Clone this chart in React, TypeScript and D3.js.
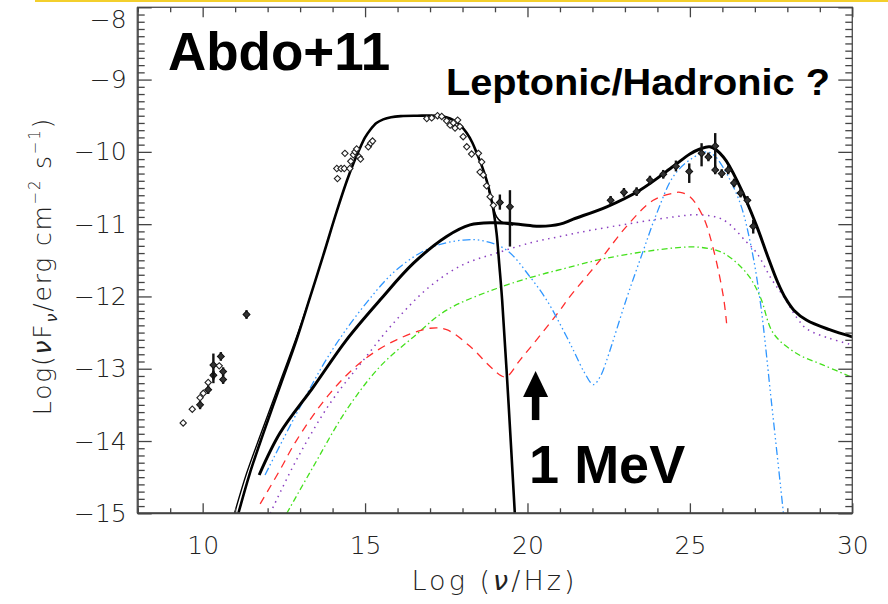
import React, { useEffect, useRef } from 'react'
import * as d3 from 'd3'

// plot box, in page pixels
const W = 888
const H = 604
const box = { left: 137.7, right: 852.3, top: 7.3, bottom: 513.3 }

const xDomain: [number, number] = [8, 30]
const yDomain: [number, number] = [-15, -8]
const xMajor = [10, 15, 20, 25, 30]
const yMajor = [-15, -14, -13, -12, -11, -10, -9, -8]

// model curves [log nu, log nuFnu]
const synchrotron = [
    [11.1, -15], [11.45, -14.45], [11.87, -13.89], [12.4, -13.22], [12.89, -12.6], [13.3, -12.02],
    [13.7, -11.45], [14.13, -10.82], [14.44, -10.4], [14.64, -10.16], [14.84, -9.95],
    [15.0, -9.8], [15.15, -9.7], [15.35, -9.6], [15.56, -9.55], [15.8, -9.52], [16.1, -9.505],
    [16.6, -9.5], [17.2, -9.5], [17.5, -9.52], [17.72, -9.56], [17.95, -9.64], [18.13, -9.74],
    [18.3, -9.87], [18.44, -10.02], [18.6, -10.2], [18.74, -10.39], [18.85, -10.58], [18.95, -10.8],
    [19.05, -11.13], [19.13, -11.55], [19.22, -12.05], [19.42, -13.5], [19.61, -15],
]
const synchrotronAlt = [
    [10.98, -15], [11.35, -14.45], [11.8, -13.89], [12.35, -13.22], [12.86, -12.6], [13.3, -12.02],
]
const totalHigh = [
    [11.74, -14.47], [12.38, -13.89], [13.41, -13.25], [14.43, -12.6], [15.46, -12.05], [16.49, -11.54],
    [17.51, -11.17], [18.23, -11.01], [18.95, -10.98], [19.5, -10.99], [20.08, -11.02], [20.39, -11.03],
    [21.0, -11.0], [21.41, -10.93], [22.44, -10.76], [23.46, -10.53], [24.49, -10.2], [25.0, -10.03],
    [25.31, -9.96], [25.62, -9.93], [26.03, -10.07], [26.54, -10.48], [27.06, -11.03], [27.4, -11.45],
    [27.7, -11.8], [27.95, -12.03], [28.2, -12.19], [28.6, -12.33], [29.3, -12.46], [30, -12.56],
]
const totalTail = [
    [18.74, -10.39], [18.85, -10.6], [18.95, -10.77], [19.05, -10.9], [19.2, -10.97], [19.4, -11.0], [19.56, -11.01],
]
const blueComp = [
    [11.92, -14.47], [12.89, -13.62], [13.92, -12.79], [14.95, -12.14], [15.97, -11.63], [17.0, -11.33],
    [18.02, -11.22], [18.64, -11.23], [19.36, -11.36], [20.08, -11.73], [20.59, -12.05], [21.0, -12.38],
    [21.41, -12.74], [21.75, -13.05], [22.03, -13.22], [22.25, -13.1], [22.44, -12.88], [23.05, -12.03],
    [23.57, -11.36], [23.98, -10.85], [24.49, -10.34], [25.0, -10.11], [25.52, -10.0], [25.75, -10.05],
    [26.03, -10.22], [26.54, -10.7], [26.88, -11.3], [27.16, -12.05], [27.52, -13.5], [27.88, -15],
]
const redComp = [
    [11.77, -14.87], [12.38, -14.4], [12.89, -13.99], [13.92, -13.34], [14.95, -12.88], [15.97, -12.6],
    [17.0, -12.44], [17.51, -12.46], [18.23, -12.69], [18.85, -12.97], [19.2, -13.1], [19.36, -13.11],
    [19.77, -12.88], [20.28, -12.6], [21.0, -12.19], [21.31, -12.0], [22.23, -11.5], [23.05, -11.03],
    [23.87, -10.67], [24.49, -10.57], [24.7, -10.56], [25.0, -10.62], [25.41, -10.9], [25.72, -11.34],
    [26.03, -12.0], [26.13, -12.37],
]
const purpleComp = [
    [12.08, -15], [12.89, -14.26], [13.92, -13.48], [14.95, -12.88], [15.97, -12.32], [17.0, -11.86],
    [18.02, -11.56], [19.05, -11.4], [20.08, -11.26], [21.0, -11.17], [22.0, -11.08], [23.46, -10.97],
    [24.5, -10.9], [25.31, -10.87], [26.03, -10.94], [26.75, -11.25], [27.06, -11.4], [27.5, -11.75],
    [27.88, -12.0], [28.3, -12.3], [28.6, -12.45], [29.3, -12.58], [30, -12.67],
]
const greenComp = [
    [12.59, -15], [13.41, -14.35], [14.43, -13.57], [15.46, -12.97], [16.49, -12.56], [17.51, -12.19],
    [19.05, -11.89], [20.39, -11.7], [21.0, -11.63], [22.44, -11.47], [24.49, -11.33], [25.31, -11.32],
    [26.03, -11.4], [26.75, -11.68], [27.16, -12.0], [27.57, -12.51], [28.29, -12.79], [29.11, -12.95],
    [30, -13.12],
]

// data points
const openPoints = [
    [9.4, -13.75], [9.68, -13.56], [9.92, -13.4], [10.02, -13.34], [10.17, -13.19], [10.51, -12.96],
    [14.15, -10.37], [14.13, -10.23], [14.26, -10.23], [14.36, -10.23], [14.53, -10.23], [14.38, -10.02],
    [14.56, -10.13], [14.64, -10.04], [14.69, -10.0], [14.74, -9.96], [14.82, -10.07], [14.86, -10.1],
    [15.1, -9.93], [15.17, -9.88], [15.23, -9.85],
    [16.9, -9.54], [17.05, -9.53], [17.23, -9.5], [17.36, -9.51], [17.51, -9.57], [17.62, -9.63],
    [17.72, -9.6], [17.77, -9.67], [17.85, -9.56], [17.92, -9.65], [18.02, -9.79], [18.13, -9.93],
    [18.28, -10.03], [18.49, -10.02], [18.59, -10.14], [18.54, -10.28], [18.64, -10.32], [18.74, -10.47],
    [18.85, -10.62], [18.95, -10.74],
]
// [x, y, lower, upper]
const filledPoints = [
    [9.92, -13.5, -13.56, -13.44], [10.17, -13.29, -13.35, -13.23], [10.33, -13.09, -13.15, -13.03],
    [10.33, -12.95, -13.2, -12.79], [10.56, -12.83, -12.89, -12.77], [10.63, -13.04, -13.1, -12.98],
    [10.63, -13.15, -13.21, -13.09], [11.35, -12.25, -12.31, -12.19],
    [19.15, -10.7, -10.8, -10.59], [19.46, -10.76, -11.31, -10.53],
    [22.56, -10.67, -10.73, -10.61], [22.97, -10.56, -10.62, -10.5], [23.36, -10.55, -10.61, -10.49],
    [23.77, -10.39, -10.45, -10.33], [24.18, -10.31, -10.37, -10.25], [24.57, -10.2, -10.27, -10.12],
    [24.98, -10.27, -10.43, -10.16], [25.36, -10.02, -10.2, -9.88], [25.57, -10.07, -10.13, -10.01],
    [25.78, -9.92, -10.25, -9.74], [25.78, -10.25, -10.31, -10.19], [25.98, -10.3, -10.36, -10.24],
    [26.18, -10.25, -10.31, -10.19], [26.36, -10.43, -10.49, -10.37], [26.56, -10.57, -10.63, -10.51],
    [26.77, -10.67, -10.73, -10.61], [26.95, -11.03, -11.13, -10.94],
]

// annotations, in data units
const arrowX = 20.25
const arrowTip = -13.03
const arrowEnd = -13.71

const tickFont = '"DejaVu Sans", "Liberation Sans", sans-serif'
const boldFont = '"Liberation Sans", Arial, sans-serif'

const App = () => {
    const axRef = useRef<SVGGElement>(null)

    const x = d3.scaleLinear().domain(xDomain).range([box.left, box.right])
    const y = d3.scaleLinear().domain(yDomain).range([box.bottom, box.top])

    const line = d3.line<number[]>()
        .x(d => x(d[0]))
        .y(d => y(d[1]))
        .curve(d3.curveCatmullRom.alpha(0.5))

    useEffect(() => {
        const g = d3.select(axRef.current)
        g.selectAll('*').remove()

        const xMinor = d3.range(8, 31, 1).filter(v => !xMajor.includes(v))
        const yMinor = d3.range(-150, -80, 1).filter(v => v % 10 !== 0).map(v => v / 10)

        const style = (sel: any) => {
            sel.attr('font-family', tickFont).attr('font-size', 25).attr('font-weight', 200)
            sel.selectAll('.domain').remove()
            sel.selectAll('line').attr('stroke', '#444').attr('stroke-width', 1.3)
            sel.selectAll('text').attr('fill', '#222')
        }

        g.append('g').attr('transform', `translate(0,${box.bottom})`)
            .call(d3.axisBottom(x).tickValues(xMajor).tickSize(-10).tickSizeOuter(0).tickPadding(23).tickFormat(d3.format('d')))
            .call(style)
        g.append('g').attr('transform', `translate(0,${box.bottom})`)
            .call(d3.axisBottom(x).tickValues(xMinor).tickSize(-5).tickFormat(() => ''))
            .call(style)
        g.append('g').attr('transform', `translate(0,${box.top})`)
            .call(d3.axisTop(x).tickValues(xMajor).tickSize(-10).tickFormat(() => ''))
            .call(style)
        g.append('g').attr('transform', `translate(0,${box.top})`)
            .call(d3.axisTop(x).tickValues(xMinor).tickSize(-5).tickFormat(() => ''))
            .call(style)

        const left = g.append('g').attr('transform', `translate(${box.left},0)`)
            .call(d3.axisLeft(y).tickValues(yMajor).tickSize(-14).tickPadding(11).tickFormat(d3.format('d')))
            .call(style)
        // top label sits lower so it stays inside the page
        left.selectAll('.tick text').filter((d: any) => d === -8).attr('transform', 'translate(0,12)')
        g.append('g').attr('transform', `translate(${box.left},0)`)
            .call(d3.axisLeft(y).tickValues(yMinor).tickSize(-7).tickFormat(() => ''))
            .call(style)
        g.append('g').attr('transform', `translate(${box.right},0)`)
            .call(d3.axisRight(y).tickValues(yMajor).tickSize(-14).tickFormat(() => ''))
            .call(style)
        g.append('g').attr('transform', `translate(${box.right},0)`)
            .call(d3.axisRight(y).tickValues(yMinor).tickSize(-7).tickFormat(() => ''))
            .call(style)
    }, [])

    const diamond = (s: number) => d3.symbol(d3.symbolSquare, s)() as string

    const ax = x(arrowX)
    const at = y(arrowTip)
    const ab = y(arrowEnd)

    return (
        <svg width={W} height={H} style={{ position: 'absolute', left: 0, top: 0, background: '#fff' }}>
            <defs>
                <clipPath id="plot">
                    <rect x={box.left} y={box.top} width={box.right - box.left} height={box.bottom - box.top} />
                </clipPath>
            </defs>
            <rect x={35} y={0} width={W - 35} height={2} fill="#f3cf2c" />

            <g clipPath="url(#plot)" fill="none">
                <path d={line(greenComp)!} stroke="#44e01c" strokeWidth={1.3} strokeDasharray="6 3 1.5 3" />
                <path d={line(purpleComp)!} stroke="#8a3fc0" strokeWidth={1.5} strokeDasharray="1.5 4.5" />
                <path d={line(redComp)!} stroke="#ff2d2d" strokeWidth={1.3} strokeDasharray="8 6" />
                <path d={line(blueComp)!} stroke="#2f96ff" strokeWidth={1.3} strokeDasharray="8 3 1.5 3 1.5 3 1.5 3" />
                <path d={line(totalHigh)!} stroke="#000" strokeWidth={3} />
                <path d={line(totalTail)!} stroke="#000" strokeWidth={1.6} />
                <path d={line(synchrotronAlt)!} stroke="#000" strokeWidth={1.4} />
                <path d={line(synchrotron)!} stroke="#000" strokeWidth={2.6} />
            </g>

            <g>
                {filledPoints.map((d, i) => (
                    <g key={'f' + i}>
                        <line x1={x(d[0])} x2={x(d[0])} y1={y(d[2])} y2={y(d[3])} stroke="#111" strokeWidth={2.4} />
                        <path d={diamond(24)} transform={`translate(${x(d[0])},${y(d[1])}) rotate(45)`} fill="#333" stroke="#111" strokeWidth={1} />
                    </g>
                ))}
                {openPoints.map((d, i) => (
                    <path key={'o' + i} d={diamond(20)} transform={`translate(${x(d[0])},${y(d[1])}) rotate(45)`}
                        fill="#fff" stroke="#222" strokeWidth={1.1} />
                ))}
            </g>

            <rect x={box.left} y={box.top} width={box.right - box.left} height={box.bottom - box.top}
                fill="none" stroke="#555" strokeWidth={1.4} />
            <line x1={box.left} x2={box.left} y1={box.top} y2={box.bottom} stroke="#555" strokeWidth={2.2} />
            <line x1={box.left} x2={box.right} y1={box.bottom} y2={box.bottom} stroke="#444" strokeWidth={2} />
            <g ref={axRef} />

            <text x={x(8.93)} y={y(-8.87)} fontFamily={boldFont} fontWeight="bold" fontSize={53}>Abdo+11</text>
            <text x={x(17.49)} y={y(-9.22)} fontFamily={boldFont} fontWeight="bold" fontSize={37}
                textLength={384} lengthAdjust="spacingAndGlyphs">Leptonic/Hadronic ?</text>
            <text x={x(20.05)} y={y(-14.58)} fontFamily={boldFont} fontWeight="bold" fontSize={54}>1 MeV</text>

            <line x1={ax} x2={ax} y1={at + 20} y2={ab} stroke="#000" strokeWidth={7.5} />
            <path d={`M${ax},${at} L${ax + 12.5},${at + 26} L${ax - 12.5},${at + 26} Z`} fill="#000" />

            <text x={493} y={590} textAnchor="middle" fontFamily={tickFont} fontWeight={200} fontSize={27} fill="#222"
                textLength={163} lengthAdjust="spacing">
                Log (<tspan fontStyle="italic">ν</tspan>/Hz)
            </text>
            <text transform="translate(51,266) rotate(-90)" textAnchor="middle" fontFamily={tickFont} fontWeight={200}
                fontSize={25} fill="#222" letterSpacing={1.8}>
                Log(<tspan fontStyle="italic">ν</tspan>F<tspan fontSize={16} dy={6} fontStyle="italic">ν</tspan>
                <tspan dy={-6}>/erg  cm</tspan><tspan fontSize={15} dy={-11}>−2</tspan>
                <tspan dy={11}>  s</tspan><tspan fontSize={15} dy={-11}>−1</tspan><tspan dy={11}>)</tspan>
            </text>
        </svg>
    )
}

export default App
